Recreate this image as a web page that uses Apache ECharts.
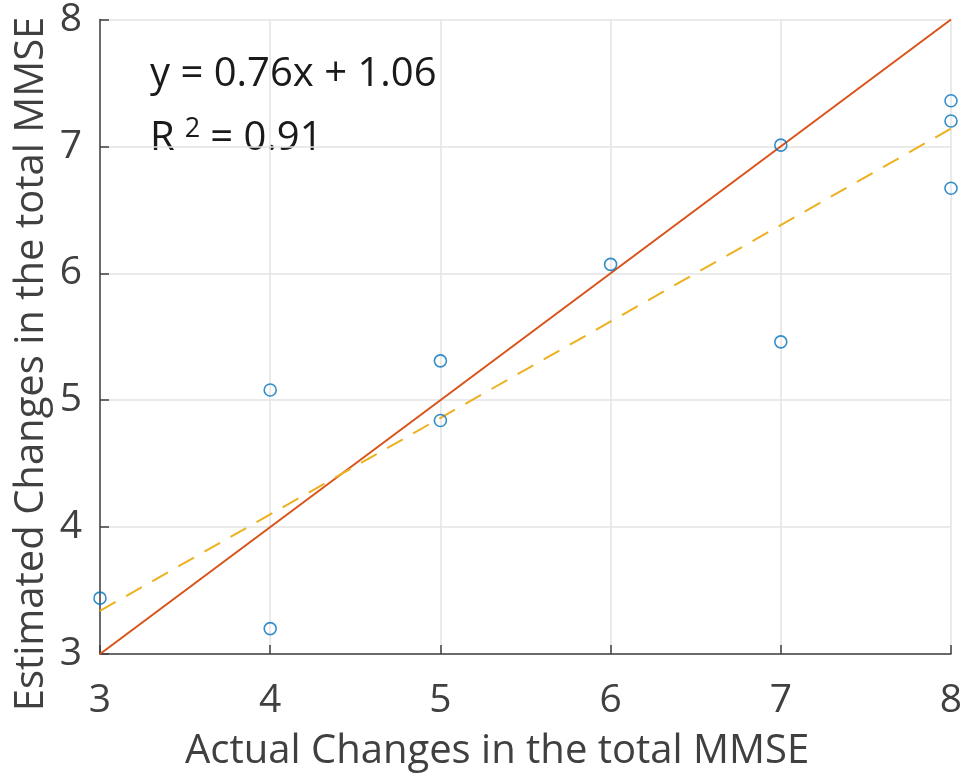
<!DOCTYPE html>
<html>
<head>
<meta charset="utf-8">
<script src="https://cdn.jsdelivr.net/npm/echarts@6/dist/echarts.min.js"></script>
<style>
html,body{margin:0;padding:0;background:#fff;}
#chart{width:966px;height:780px;}
</style>
</head>
<body>
<div id="chart"></div>
<script>
// Observed (actual) vs estimated changes in the total MMSE
const actualChange = [3, 4, 4, 5, 5, 6, 7, 7, 8, 8, 8];
const estimatedChange = [3.44, 3.20, 5.08, 5.31, 4.84, 6.07, 7.01, 5.46, 7.36, 7.20, 6.67];

// Linear fit y = slope * x + intercept
const fitSlope = 0.76;
const fitIntercept = 1.06;
const fitR2 = 0.91;
const lineEnds = [3, 8];

const xTicks = [3, 4, 5, 6, 7, 8];
const yTicks = [3, 4, 5, 6, 7, 8];

const font = 'Open Sans';

const chart = echarts.init(document.getElementById('chart'));

const points = actualChange.map((x, i) => [x, estimatedChange[i]]);
const identity = lineEnds.map(x => [x, x]);
const fitLine = lineEnds.map(x => [x, fitSlope * x + fitIntercept]);

chart.setOption({
  animation: false,
  backgroundColor: '#fff',
  grid: { left: 100, right: 15, top: 16, bottom: 126 },
  xAxis: {
    type: 'value', min: xTicks[0], max: xTicks[xTicks.length - 1], interval: 1,
    axisLine: { show: true, onZero: false, lineStyle: { color: '#404040', width: 1.5 } },
    axisTick: { show: true, inside: true, length: 9, lineStyle: { color: '#404040', width: 1.5 } },
    splitLine: { show: true, lineStyle: { color: '#e3e3e3', width: 1.5 } },
    axisLabel: { color: '#404040', fontFamily: font, fontSize: 39, margin: 27 }
  },
  yAxis: {
    type: 'value', min: yTicks[0], max: yTicks[yTicks.length - 1], interval: 1,
    axisLine: { show: true, onZero: false, lineStyle: { color: '#404040', width: 1.5 } },
    axisTick: { show: true, inside: true, length: 9, lineStyle: { color: '#404040', width: 1.5 } },
    splitLine: { show: true, lineStyle: { color: '#e3e3e3', width: 1.5 } },
    axisLabel: { color: '#404040', fontFamily: font, fontSize: 39, margin: 18 }
  },
  graphic: [
    {
      type: 'text', left: 185, top: 732,
      style: { text: 'Actual Changes in the total MMSE', fill: '#404040', font: '40px "Open Sans"' }
    },
    {
      type: 'text', x: 12, y: 364, rotation: Math.PI / 2,
      style: { text: 'Estimated Changes in the total MMSE', fill: '#404040', font: '40px "Open Sans"',
               align: 'center', verticalAlign: 'top' }
    },
    {
      type: 'text', left: 150, top: 55,
      style: { text: 'y = ' + fitSlope + 'x + ' + fitIntercept, fill: '#1a1a1a', font: '40px "Open Sans"' }
    },
    {
      type: 'text', left: 150, top: 116,
      style: {
        text: '{b|R}{s|2}{b|= ' + fitR2 + '}',
        rich: {
          b: { fill: '#1a1a1a', fontFamily: font, fontSize: 40, verticalAlign: 'bottom' },
          s: { fill: '#1a1a1a', fontFamily: font, fontSize: 27, verticalAlign: 'top', padding: [0, 10, 16, 10] }
        }
      }
    }
  ],
  series: [
    {
      type: 'line', data: identity, symbol: 'none', silent: true, z: 2,
      lineStyle: { color: '#D95319', width: 2 }
    },
    {
      type: 'line', data: fitLine, symbol: 'none', silent: true, z: 2,
      lineStyle: { color: '#EDB120', width: 2, type: [18, 12] }
    },
    {
      type: 'scatter', data: points, symbol: 'circle', symbolSize: 12, z: 3,
      itemStyle: { color: 'rgba(255,255,255,0)', borderColor: '#0072BD', borderWidth: 1.6 }
    }
  ]
});
</script>
</body>
</html>
